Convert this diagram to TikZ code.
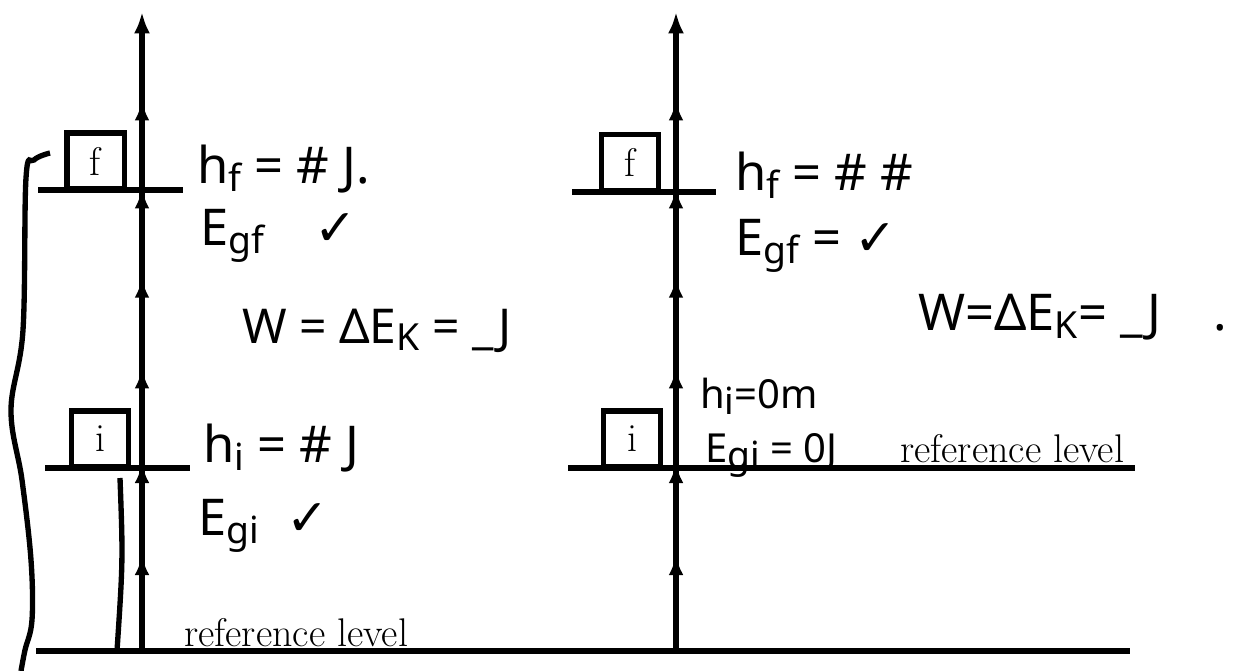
\documentclass[tikz,border=0pt]{standalone}
\usepackage{fontspec}
\newfontfamily\hand{Noto Sans}
\newfontfamily\symf{DejaVu Sans}
\usetikzlibrary{arrows.meta,decorations.markings}
\newcommand\lowsub[1]{\raisebox{-0.3ex}{\fontsize{28}{30}\selectfont #1}}
\newcommand\chk{{\symf ✓}}
\tikzset{
  thick line/.style={line width=4pt},
  mk/.tip={Latex[length=15pt,width=11pt]},
  axisline/.style={line width=4pt, -{Latex[length=16pt,width=12pt]},
    postaction={decorate},
    decoration={markings,
      mark=at position 72pt with {\arrow{mk}},
      mark=at position 141pt with {\arrow{mk}},
      mark=at position 212pt with {\arrow{mk}},
      mark=at position 280pt with {\arrow{mk}},
      mark=at position 347pt with {\arrow{mk}},
      mark=at position 413pt with {\arrow{mk}}}},
  blk/.style={draw, line width=4pt, minimum width=43pt, minimum height=42pt, inner sep=0pt,
    font=\fontsize{30}{32}\selectfont},
  hw/.style={anchor=base west, inner sep=0pt, font=\hand\fontsize{38}{42}\selectfont},
  hws/.style={anchor=base west, inner sep=0pt, font=\hand\fontsize{30}{34}\selectfont},
  reflbl/.style={anchor=base west, inner sep=0pt, font=\fontsize{30}{32}\selectfont}
}
\begin{document}
\begin{tikzpicture}[x=0.75pt,y=-0.75pt]
\useasboundingbox (0,0) rectangle (1233,671);
% ground
\coordinate (g1) at (36,651);
\coordinate (g2) at (1130,651);
\draw[thick line] (g1) -- (g2);
% left panel
\coordinate (la0) at (142,651);
\coordinate (la1) at (142,12);
\draw[axisline] (la0) -- (la1);
\coordinate (lf1) at (38,190);
\coordinate (lf2) at (183,190);
\draw[thick line] (lf1) -- (lf2);
\coordinate (li1) at (45,468);
\coordinate (li2) at (190,468);
\draw[thick line] (li1) -- (li2);
\node[blk] (boxf1) at (95.5,161) {f};
\node[blk] (boxi1) at (100,439) {i};
\coordinate (v1) at (120,478);
\coordinate (v2) at (117,651);
\draw[thick line] (v1) .. controls (123,560) .. (v2);
\draw[thick line] plot[smooth, tension=0.6] coordinates {(50,153) (34,160) (26,178) (23,330) (11,410) (22,480) (31,560) (32,620) (25,650) (21,671)};
\node[hw] (hf1) at (197,183) {h\lowsub{f} = \# J.};
\node[hw] (egf1) at (200,245) {E\lowsub{gf}\quad \chk};
\node[hw, font=\hand\fontsize{36}{40}\selectfont] (w1) at (242,343) {W = ΔE\lowsub{K} = \_J};
\node[hw] (hi1) at (203,462) {h\lowsub{i} = \# J};
\node[hw] (egi1) at (198,535) {E\lowsub{gi}\; \chk};
\node[reflbl] (ref1) at (184,646) {reference level};
% right panel
\coordinate (ra0) at (676,651);
\coordinate (ra1) at (676,12);
\draw[axisline] (ra0) -- (ra1);
\coordinate (rf1) at (572,192);
\coordinate (rf2) at (716,192);
\draw[thick line] (rf1) -- (rf2);
\coordinate (ri1) at (568,468);
\coordinate (ri2) at (1135,468);
\draw[thick line] (ri1) -- (ri2);
\node[blk] (boxf2) at (630,162.5) {f};
\node[blk] (boxi2) at (632,439) {i};
\node[hw] (hf2) at (735,190) {h\lowsub{f} = \# \#};
\node[hw] (egf2) at (735,255) {E\lowsub{gf} = \chk};
\node[hw] (w2) at (918,330) {W=ΔE\lowsub{K}= \_J};
\node[hw, anchor=base] (dot2) at (1220,330) {.};
\node[hws] (hi2) at (700,408) {h\lowsub{i}=0m};
\node[hws] (egi2) at (705,462) {E\lowsub{gi} = 0J};
\node[reflbl] (ref2) at (900,462) {reference level};
\end{tikzpicture}
\end{document}
